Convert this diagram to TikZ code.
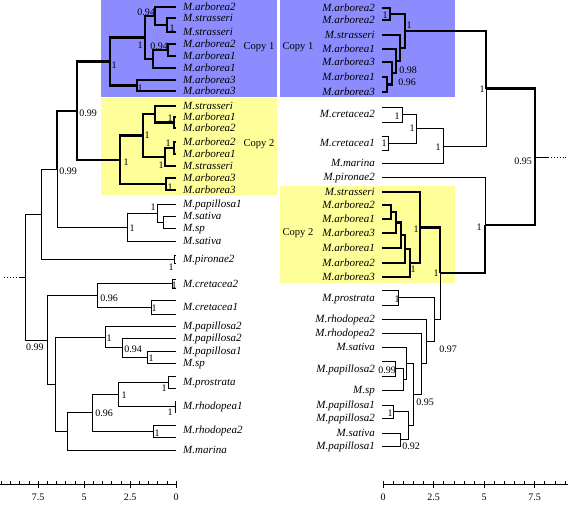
\documentclass[tikz,border=0pt]{standalone}
\usepackage{fontspec}
\setmainfont{Liberation Serif}
\definecolor{copyblue}{RGB}{140,140,255}
\definecolor{copyyellow}{RGB}{255,255,153}
\tikzset{
    branch/.style={line width=0.9pt},
    boldbranch/.style={line width=2.6pt},
    taxon/.style={font=\fontsize{11}{12}\selectfont\itshape, inner sep=0pt, text height=7.5pt, text depth=0pt},
    support/.style={font=\fontsize{10}{11}\selectfont, inner sep=0pt},
    copylabel/.style={font=\fontsize{10.5}{12}\selectfont, inner sep=0pt},
}
\begin{document}
\begin{tikzpicture}[x=1pt,y=-1pt]
    \useasboundingbox (0,0) rectangle (568,504);

    % Copy boxes
    \fill[copyblue] (101,0) rectangle (277,97);
    \fill[copyyellow] (101,98) rectangle (277,195);
    \fill[copyblue] (280,0) rectangle (455,97);
    \fill[copyyellow] (280,186) rectangle (455,283);
    \node[copylabel] (copyla) at (259,47) {Copy 1};
    \node[copylabel] (copylb) at (259,144) {Copy 2};
    \node[copylabel] (copyra) at (298,47) {Copy 1};
    \node[copylabel] (copyrb) at (298,233) {Copy 2};

    % Left tree: taxa
    \foreach \n/\y/\t in {1/7/arborea2, 2/18/strasseri, 3/32/strasseri, 4/44/arborea2,
        5/56/arborea1, 6/68/arborea1, 7/80/arborea3, 8/91/arborea3,
        9/106/strasseri, 10/117/arborea1, 11/128/arborea2, 12/142/arborea2,
        13/154/arborea1, 14/166/strasseri, 15/178/arborea3, 16/190/arborea3,
        17/204/papillosa1, 18/216/sativa, 19/228/sp, 20/241/sativa,
        21/259/pironae2, 22/284/cretacea2, 23/307/cretacea1, 24/326/papillosa2,
        25/338/papillosa2, 26/351/papillosa1, 27/363/sp, 28/382/prostrata,
        29/406/rhodopea1, 30/430/rhodopea2, 31/450/marina} {
        \coordinate (lt\n) at (176,\y);
        \node[taxon, anchor=west] (ln\n) at (183,\y) {M.\t};
    }
    % Left tree: unlabelled tips of pairs
    \coordinate (pia) at (176,255);  \coordinate (pib) at (176,263);
    \coordinate (cr2a) at (176,279); \coordinate (cr2b) at (176,288);
    \coordinate (cr1a) at (176,300); \coordinate (cr1b) at (176,314);
    \coordinate (psa) at (176,376);  \coordinate (psb) at (176,388);
    \coordinate (rh1a) at (176,401); \coordinate (rh1b) at (176,412);
    \coordinate (rh2a) at (176,425); \coordinate (rh2b) at (176,437);

    % Left tree: internal nodes
    \coordinate (LA) at (167,25);
    \coordinate (LB) at (155,16);
    \coordinate (LC) at (168,50);
    \coordinate (LD) at (153,59);
    \coordinate (LE) at (145,37.5);
    \coordinate (LF) at (137,85.5);
    \coordinate (LG) at (110,61.5);
    \coordinate (LH) at (174,122.5);
    \coordinate (LI) at (155,114);
    \coordinate (LJ) at (174,148);
    \coordinate (LK) at (165,157);
    \coordinate (LL) at (143,135.5);
    \coordinate (LM) at (166,184);
    \coordinate (LN) at (120,160);
    \coordinate (LO) at (77,111);
    \coordinate (LP) at (163,222);
    \coordinate (LQ) at (157,213);
    \coordinate (LR) at (127,227);
    \coordinate (LS) at (57,169);
    \coordinate (PI) at (174,259);
    \coordinate (LT) at (41,214);
    \coordinate (CR2) at (172,283.5);
    \coordinate (CR1) at (151,307);
    \coordinate (LW) at (97,295);
    \coordinate (LX) at (147,357);
    \coordinate (LY) at (122,347.5);
    \coordinate (LZ) at (105,337);
    \coordinate (PS) at (168,382);
    \coordinate (RH1) at (175,406.5);
    \coordinate (R1) at (118,394);
    \coordinate (RH2) at (153,431);
    \coordinate (R2) at (92,412.5);
    \coordinate (R3) at (67,431);
    \coordinate (R4) at (55,384);
    \coordinate (LV) at (47,340);
    \coordinate (LU) at (25,277);
    \coordinate (lroot) at (20,277);
    \coordinate (lrootend) at (4,277);

    % Left tree: copy clades (bold)
    \draw[boldbranch] (LA) |- (lt2) (LA) |- (lt3) (LB) |- (lt1) (LB) |- (LA);
    \draw[boldbranch] (LC) |- (lt4) (LC) |- (lt5) (LD) |- (LC) (LD) |- (lt6);
    \draw[boldbranch] (LE) |- (LB) (LE) |- (LD) (LF) |- (lt7) (LF) |- (lt8);
    \draw[boldbranch] (LG) |- (LE) (LG) |- (LF);
    \draw[boldbranch] (LH) |- (lt10) (LH) |- (lt11) (LI) |- (lt9) (LI) |- (LH);
    \draw[boldbranch] (LJ) |- (lt12) (LJ) |- (lt13) (LK) |- (LJ) (LK) |- (lt14);
    \draw[boldbranch] (LL) |- (LI) (LL) |- (LK) (LM) |- (lt15) (LM) |- (lt16);
    \draw[boldbranch] (LN) |- (LL) (LN) |- (LM);
    \draw[boldbranch] (LO) |- (LG) (LO) |- (LN) (LS) |- (LO);

    % Left tree: other branches
    \draw[branch] (LP) |- (lt18) (LP) |- (lt19) (LQ) |- (lt17) (LQ) |- (LP);
    \draw[branch] (LR) |- (LQ) (LR) |- (lt20) (LS) |- (LR);
    \draw[branch] (PI) |- (pia) (PI) |- (pib) (LT) |- (LS) (LT) |- (PI);
    \draw[branch] (CR2) |- (cr2a) (CR2) |- (cr2b) (CR1) |- (cr1a) (CR1) |- (cr1b);
    \draw[branch] (LW) |- (CR2) (LW) |- (CR1);
    \draw[branch] (LX) |- (lt26) (LX) |- (lt27) (LY) |- (lt25) (LY) |- (LX);
    \draw[branch] (LZ) |- (lt24) (LZ) |- (LY);
    \draw[branch] (PS) |- (psa) (PS) |- (psb) (RH1) |- (rh1a) (RH1) |- (rh1b);
    \draw[branch] (R1) |- (PS) (R1) |- (RH1) (RH2) |- (rh2a) (RH2) |- (rh2b);
    \draw[branch] (R2) |- (R1) (R2) |- (RH2) (R3) |- (R2) (R3) |- (lt31);
    \draw[branch] (R4) |- (LZ) (R4) |- (R3) (LV) |- (LW) (LV) |- (R4);
    \draw[branch] (LU) |- (LT) (LU) |- (LV) (lroot) -- (LU);
    \draw[branch, dotted] (lrootend) -- (lroot);

    % Left tree: support values
    \node[support] (ls1) at (146,12) {0.94};
    \node[support] (ls2) at (172,28) {1};
    \node[support] (ls3) at (159,46) {0.94};
    \node[support] (ls4) at (140,45) {1};
    \node[support] (ls5) at (140,88) {1};
    \node[support] (ls6) at (114,65) {1};
    \node[support] (ls7) at (170,118) {1};
    \node[support] (ls8) at (147,135) {1};
    \node[support] (ls9) at (168,143) {1};
    \node[support] (ls10) at (161,165) {1};
    \node[support] (ls11) at (170,187) {1};
    \node[support] (ls12) at (126,162) {1};
    \node[support] (ls13) at (88,113) {0.99};
    \node[support] (ls14) at (153,207) {1};
    \node[support] (ls15) at (132,228) {1};
    \node[support] (ls16) at (68,171) {0.99};
    \node[support] (ls17) at (171,267) {1};
    \node[support] (ls18) at (174,285) {1};
    \node[support] (ls19) at (154,308) {1};
    \node[support] (ls20) at (109,298) {0.96};
    \node[support] (ls21) at (109,338) {1};
    \node[support] (ls22) at (133,349) {0.94};
    \node[support] (ls23) at (151,358) {1};
    \node[support] (ls24) at (35,347) {0.99};
    \node[support] (ls25) at (164,388) {1};
    \node[support] (ls26) at (124,395) {1};
    \node[support] (ls27) at (170,412) {1};
    \node[support] (ls28) at (104,413) {0.96};
    \node[support] (ls29) at (157,433) {1};

    % Right tree: taxa
    \foreach \n/\y/\t in {1/8/arborea2, 2/20/arborea2, 3/35/strasseri, 4/49/arborea1,
        5/62/arborea3, 6/77/arborea1, 7/92/arborea3, 8/114/cretacea2,
        9/143/cretacea1, 10/163/marina, 11/177/pironae2, 12/192/strasseri,
        13/205/arborea2, 14/219/arborea1, 15/233/arborea3, 16/248/arborea1,
        17/263/arborea2, 18/277/arborea3, 19/298/prostrata, 20/319/rhodopea2,
        21/333/rhodopea2, 22/347/sativa, 23/369/papillosa2, 24/390/sp,
        25/405/papillosa1, 26/418/papillosa2, 27/433/sativa, 28/446/papillosa1} {
        \coordinate (rt\n) at (382,\y);
        \node[taxon, anchor=east] (rn\n) at (375,\y) {M.\t};
    }
    % Right tree: unlabelled tips of pairs
    \coordinate (rc2a) at (382,107); \coordinate (rc2b) at (382,122);
    \coordinate (rc1a) at (382,136); \coordinate (rc1b) at (382,150);
    \coordinate (rpsa) at (382,290); \coordinate (rpsb) at (382,305);
    \coordinate (rp2a) at (382,361); \coordinate (rp2b) at (382,376);

    % Right tree: internal nodes
    \coordinate (A1) at (390,14);
    \coordinate (P1) at (387,84.5);
    \coordinate (P2) at (392,73);
    \coordinate (P3) at (396,61);
    \coordinate (P4) at (400,48);
    \coordinate (BR) at (405,31);
    \coordinate (CP2) at (402,114.5);
    \coordinate (CP1) at (388,143);
    \coordinate (C1) at (416,128.5);
    \coordinate (CG) at (443,146);
    \coordinate (UP) at (486,88.5);
    \coordinate (Q1) at (391,212);
    \coordinate (Q2) at (396,222.5);
    \coordinate (Q3) at (401,235);
    \coordinate (Q4) at (405,249);
    \coordinate (Q5) at (410,263);
    \coordinate (YR) at (420,227.5);
    \coordinate (PR) at (398,297.5);
    \coordinate (PP2) at (395,368.5);
    \coordinate (M1) at (403,379);
    \coordinate (M2) at (406,363);
    \coordinate (L1) at (393,411.5);
    \coordinate (L2) at (400,439.5);
    \coordinate (L3) at (408,425.5);
    \coordinate (K) at (413,394);
    \coordinate (N4) at (421,363.5);
    \coordinate (N3) at (426,341);
    \coordinate (N2) at (434,319);
    \coordinate (N1) at (440,273);
    \coordinate (N0) at (485,225);
    \coordinate (RT) at (535,157);
    \coordinate (rroot) at (548,157);
    \coordinate (rrootend) at (568,157);

    % Right tree: copy clades (bold)
    \draw[boldbranch] (A1) |- (rt1) (A1) |- (rt2) (P1) |- (rt6) (P1) |- (rt7);
    \draw[boldbranch] (P2) |- (rt5) (P2) |- (P1) (P3) |- (rt4) (P3) |- (P2);
    \draw[boldbranch] (P4) |- (rt3) (P4) |- (P3) (BR) |- (A1) (BR) |- (P4);
    \draw[boldbranch] (UP) |- (BR) (RT) |- (UP) (RT) |- (N0);
    \draw[boldbranch] (Q1) |- (rt13) (Q1) |- (rt14) (Q2) |- (Q1) (Q2) |- (rt15);
    \draw[boldbranch] (Q3) |- (Q2) (Q3) |- (rt16) (Q4) |- (Q3) (Q4) |- (rt17);
    \draw[boldbranch] (Q5) |- (Q4) (Q5) |- (rt18) (YR) |- (rt12) (YR) |- (Q5);
    \draw[boldbranch] (N1) |- (YR) (N0) |- (N1);

    % Right tree: other branches
    \draw[branch] (CP2) |- (rc2a) (CP2) |- (rc2b) (CP1) |- (rc1a) (CP1) |- (rc1b);
    \draw[branch] (C1) |- (CP2) (C1) |- (CP1) (CG) |- (C1) (CG) |- (rt10) (UP) |- (CG);
    \draw[branch] (N0) |- (rt11) (N1) |- (N2);
    \draw[branch] (PR) |- (rpsa) (PR) |- (rpsb) (N2) |- (PR) (N2) |- (N3);
    \draw[branch] (N3) |- (rt20) (N3) |- (N4) (N4) |- (rt21) (N4) |- (K);
    \draw[branch] (PP2) |- (rp2a) (PP2) |- (rp2b) (M1) |- (PP2) (M1) |- (rt24);
    \draw[branch] (M2) |- (rt22) (M2) |- (M1) (K) |- (M2) (K) |- (L3);
    \draw[branch] (L1) |- (rt25) (L1) |- (rt26) (L2) |- (rt27) (L2) |- (rt28);
    \draw[branch] (L3) |- (L1) (L3) |- (L2) (RT) -- (rroot);
    \draw[branch, dotted] (rroot) -- (rrootend);

    % Right tree: support values
    \node[support] (rs1) at (385,15) {1};
    \node[support] (rs2) at (409,25) {1};
    \node[support] (rs3) at (408,70) {0.98};
    \node[support] (rs4) at (407,82) {0.96};
    \node[support] (rs5) at (397,116) {1};
    \node[support] (rs6) at (384,143) {1};
    \node[support] (rs7) at (412,128) {1};
    \node[support] (rs8) at (438,147) {1};
    \node[support] (rs9) at (482,89) {1};
    \node[support] (rs10) at (523,161) {0.95};
    \node[support] (rs11) at (479,227) {1};
    \node[support] (rs12) at (436,273) {1};
    \node[support] (rs13) at (416,229) {1};
    \node[support] (rs14) at (413,269) {1};
    \node[support] (rs15) at (397,299) {1};
    \node[support] (rs16) at (448,349) {0.97};
    \node[support] (rs17) at (425,402) {0.95};
    \node[support] (rs18) at (387,370) {0.99};
    \node[support] (rs19) at (390,413) {1};
    \node[support] (rs20) at (411,446) {0.92};

    % Scale bars
    \coordinate (lsa) at (0,484);  \coordinate (lsb) at (176,484);
    \coordinate (rsa) at (383,484); \coordinate (rsb) at (568,484);
    \draw[branch] (lsa) -- (lsb);
    \draw[branch] (rsa) -- (rsb);
    \foreach \k in {0,...,19} {
        \draw[thin] (176-\k*9.2,484) -- (176-\k*9.2,481);
    }
    \foreach \k in {0,...,18} {
        \draw[thin] (383+\k*10.1,484) -- (383+\k*10.1,481);
    }
    \foreach \k in {0,5,10,15} {
        \draw[branch] (176-\k*9.2,481) -- (176-\k*9.2,488);
        \draw[branch] (383+\k*10.1,481) -- (383+\k*10.1,488);
    }
    \foreach \v/\x [count=\i] in {7.5/38, 5/84, 2.5/130, 0/176} {
        \node[support] (lv\i) at (\x,497) {\v};
    }
    \foreach \v/\x [count=\i] in {0/383, 2.5/433.5, 5/484, 7.5/534.5} {
        \node[support] (rv\i) at (\x,497) {\v};
    }
\end{tikzpicture}
\end{document}
